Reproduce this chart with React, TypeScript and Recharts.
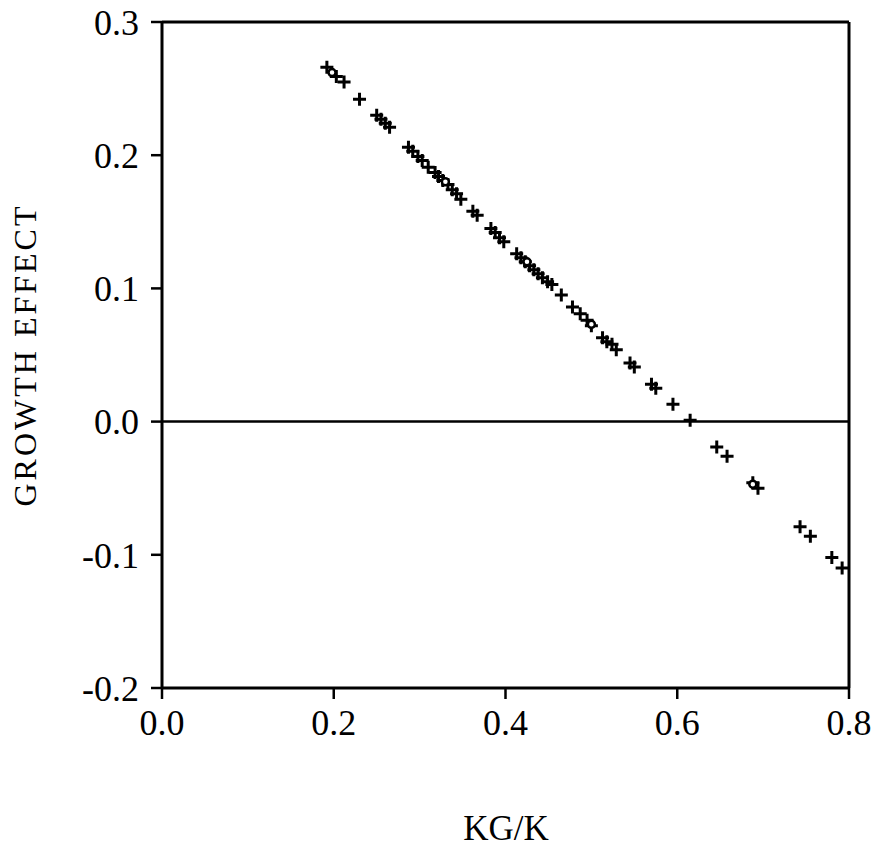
import {
  ScatterChart,
  Scatter,
  XAxis,
  YAxis,
  ReferenceLine,
} from "recharts";

// KG/K values for the "+" markers
const kgRatio = [
  0.192, 0.203, 0.212, 0.23, 0.25, 0.255, 0.26, 0.265, 0.287, 0.292, 0.298,
  0.303, 0.31, 0.318, 0.322, 0.327, 0.333, 0.338, 0.343, 0.348, 0.362, 0.367,
  0.383, 0.388, 0.393, 0.398, 0.413, 0.418, 0.423, 0.428, 0.433, 0.438, 0.443,
  0.449, 0.454, 0.465, 0.478, 0.487, 0.495, 0.5, 0.513, 0.518, 0.524, 0.529,
  0.545, 0.55, 0.57, 0.575, 0.595, 0.615, 0.646, 0.658, 0.688, 0.694, 0.743,
  0.755, 0.78, 0.792,
];

// growth effect for the "+" markers
const growth = [
  0.266, 0.259, 0.255, 0.242, 0.23, 0.227, 0.224, 0.221, 0.206, 0.203, 0.199,
  0.196, 0.191, 0.187, 0.184, 0.181, 0.178, 0.174, 0.171, 0.167, 0.158, 0.155,
  0.145, 0.142, 0.138, 0.135, 0.126, 0.123, 0.12, 0.117, 0.114, 0.111, 0.108,
  0.105, 0.103, 0.095, 0.086, 0.081, 0.076, 0.072, 0.063, 0.06, 0.058, 0.054,
  0.044, 0.041, 0.028, 0.025, 0.013, 0.001, -0.019, -0.026, -0.046, -0.05,
  -0.079, -0.086, -0.102, -0.11,
];

// open circle markers
const circleKg = [0.198, 0.33, 0.425, 0.5, 0.688];
const circleGrowth = [0.262, 0.18, 0.12, 0.073, -0.047];

const xTicks = [0, 0.2, 0.4, 0.6, 0.8];
const yTicks = [-0.2, -0.1, 0, 0.1, 0.2, 0.3];

const crosses = kgRatio.map((x, i) => ({ x, y: growth[i] }));
const circles = circleKg.map((x, i) => ({ x, y: circleGrowth[i] }));

const font = "'Liberation Serif', 'Times New Roman', serif";

const Plus = (props: any) => {
  const { cx, cy } = props;
  return (
    <path
      d={`M${cx - 6.5},${cy}H${cx + 6.5}M${cx},${cy - 6.5}V${cy + 6.5}`}
      stroke="#000"
      strokeWidth={3}
    />
  );
};

const Ring = (props: any) => {
  const { cx, cy } = props;
  return <circle cx={cx} cy={cy} r={3.5} fill="#fff" stroke="#000" strokeWidth={2.5} />;
};

const fmt = (v: number) => v.toFixed(1);

const App = () => {
  return (
    <div style={{ position: "absolute", left: 0, top: 0 }}>
      <ScatterChart
        width={872}
        height={848}
        margin={{ top: 22, right: 23, bottom: 6, left: 22 }}
      >
        <XAxis
          type="number"
          dataKey="x"
          domain={[0, 0.8]}
          ticks={xTicks}
          tickFormatter={fmt}
          height={154}
          tickSize={11}
          tickMargin={10}
          axisLine={{ stroke: "#000", strokeWidth: 3 }}
          tickLine={{ stroke: "#000", strokeWidth: 2.5 }}
          tick={{ fill: "#000", fontSize: 36, fontFamily: font }}
          label={{
            content: () => (
              <text
                x={506}
                y={840}
                textAnchor="middle"
                fontSize={35}
                fontFamily={font}
                fill="#000"
              >
                KG/K
              </text>
            ),
          }}
        />
        <YAxis
          type="number"
          dataKey="y"
          domain={[-0.2, 0.3]}
          ticks={yTicks}
          tickFormatter={fmt}
          width={140}
          tickSize={11}
          tickMargin={12}
          axisLine={{ stroke: "#000", strokeWidth: 3 }}
          tickLine={{ stroke: "#000", strokeWidth: 2.5 }}
          tick={{ fill: "#000", fontSize: 36, fontFamily: font }}
          label={{
            content: () => (
              <text
                x={25}
                y={355}
                transform="rotate(-90 25 355)"
                textAnchor="middle"
                dominantBaseline="central"
                fontSize={32}
                letterSpacing={3}
                fontFamily={font}
                fill="#000"
              >
                GROWTH EFFECT
              </text>
            ),
          }}
        />
        <ReferenceLine y={0.3} stroke="#000" strokeWidth={3} />
        <ReferenceLine x={0.8} stroke="#000" strokeWidth={3} />
        <ReferenceLine y={0} stroke="#000" strokeWidth={2.5} />
        <Scatter data={crosses} shape={Plus} isAnimationActive={false} />
        <Scatter data={circles} shape={Ring} isAnimationActive={false} />
      </ScatterChart>
    </div>
  );
};

export default App;
